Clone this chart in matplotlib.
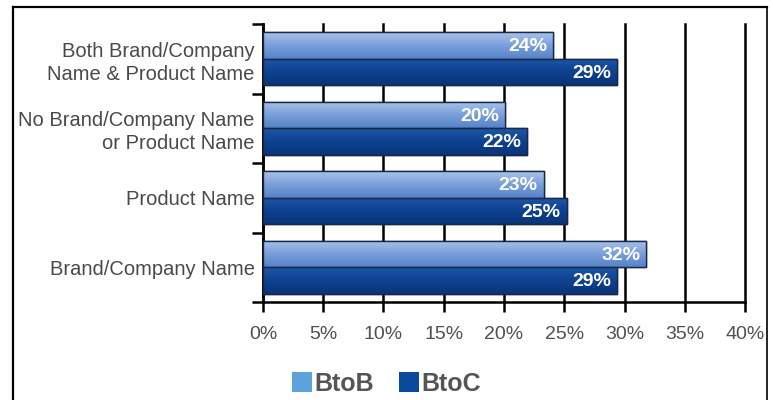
import numpy as np
import matplotlib
matplotlib.use("Agg")
from matplotlib import pyplot as plt
from matplotlib.patches import Patch
from matplotlib.lines import Line2D
from matplotlib.colors import LinearSegmentedColormap

# data
categorias = ["Both Brand/Company\nName & Product Name",
              "No Brand/Company Name\nor Product Name",
              "Product Name",
              "Brand/Company Name"]
btob = [24.1, 20.1, 23.3, 31.8]
btoc = [29.4, 21.9, 25.2, 29.4]
xticks = [0, 5, 10, 15, 20, 25, 30, 35, 40]

plt.rcParams["font.family"] = ["Liberation Sans", "DejaVu Sans"]

fig = plt.figure(figsize=(7.73, 4), dpi=100)
ax = fig.add_axes([0.3402, 0.245, 0.6236, 0.695])

y = np.arange(len(categorias))
h = 0.38

# gradients for the bars (top light -> bottom darker)
cmap_b = LinearSegmentedColormap.from_list("b", ["#a9c3ea", "#7a9fdb", "#5583c8"])
cmap_c = LinearSegmentedColormap.from_list("c", ["#1f57a8", "#0d4190", "#0a3478"])
grad = np.linspace(0, 1, 64).reshape(-1, 1)

def barras(vals, offset, cmap, col):
    bars = ax.barh(y + offset, vals, height=h, color=col, edgecolor="#18284a",
                   linewidth=1.0, zorder=3)
    for b in bars:
        x0, y0 = b.get_x(), b.get_y()
        im = ax.imshow(grad, cmap=cmap, aspect="auto", zorder=3.5,
                       extent=(x0, x0 + b.get_width(), y0 + b.get_height(), y0))
        im.set_clip_path(b)
        ax.add_patch(plt.Rectangle((x0, y0), b.get_width(), b.get_height(),
                                   fill=False, edgecolor="#18284a", lw=1.0, zorder=4))
    for v, yy in zip(vals, y + offset):
        ax.text(v - 0.5, yy + 0.02, f"{round(v)}%", ha="right", va="center",
                color="white", fontsize=14, fontweight="bold", zorder=5)

barras(btob, -h / 2, cmap_b, "#7a9fdb")
barras(btoc, h / 2, cmap_c, "#0d4190")

ax.set_xlim(0, 40)
ax.set_ylim(3.5, -0.5)

ax.set_xticks(xticks)
ax.set_xticklabels([f"{t}%" for t in xticks])
ax.set_yticks(y)
ax.set_yticklabels(categorias, linespacing=1.25)
ax.set_yticks(np.arange(-0.5, 4, 1), minor=True)

ax.grid(axis="x", color="black", linewidth=1.8, zorder=0)
ax.set_axisbelow(True)
for gl in ax.get_xgridlines():
    gl.set_clip_on(False)

for s in ["top", "right"]:
    ax.spines[s].set_visible(False)
for s in ["left", "bottom"]:
    ax.spines[s].set_linewidth(1.8)
    ax.spines[s].set_color("black")

ax.tick_params(axis="x", direction="out", length=7, width=1.8, pad=10,
               labelsize=14, labelcolor="#505050")
ax.tick_params(axis="y", which="major", length=0, pad=6,
               labelsize=14.5, labelcolor="#4a4a4a")
ax.tick_params(axis="y", which="minor", direction="out", length=8, width=1.8)

# legend at the bottom
handles = [Patch(facecolor="#5aa3db", edgecolor="none", label="BtoB"),
           Patch(facecolor="#0a4a9c", edgecolor="none", label="BtoC")]
leg = fig.legend(handles=handles, loc="center", bbox_to_anchor=(0.5, 0.04),
                 ncol=2, frameon=False, handlelength=0.8, handleheight=0.85,
                 handletextpad=0.1, columnspacing=1.0,
                 prop={"size": 18, "weight": "bold"})
for t in leg.get_texts():
    t.set_color("#555555")

# outer frame
fx0, fx1, fy1 = 13 / 773, 767 / 773, 1 - 7 / 400
fig.add_artist(Line2D([fx0, fx0], [0, fy1], color="black", lw=1.6))
fig.add_artist(Line2D([fx0, fx1], [fy1, fy1], color="black", lw=1.6))
fig.add_artist(Line2D([fx1, fx1], [fy1, 0], color="black", lw=1.2))

fig.savefig("out.png", dpi=100)
